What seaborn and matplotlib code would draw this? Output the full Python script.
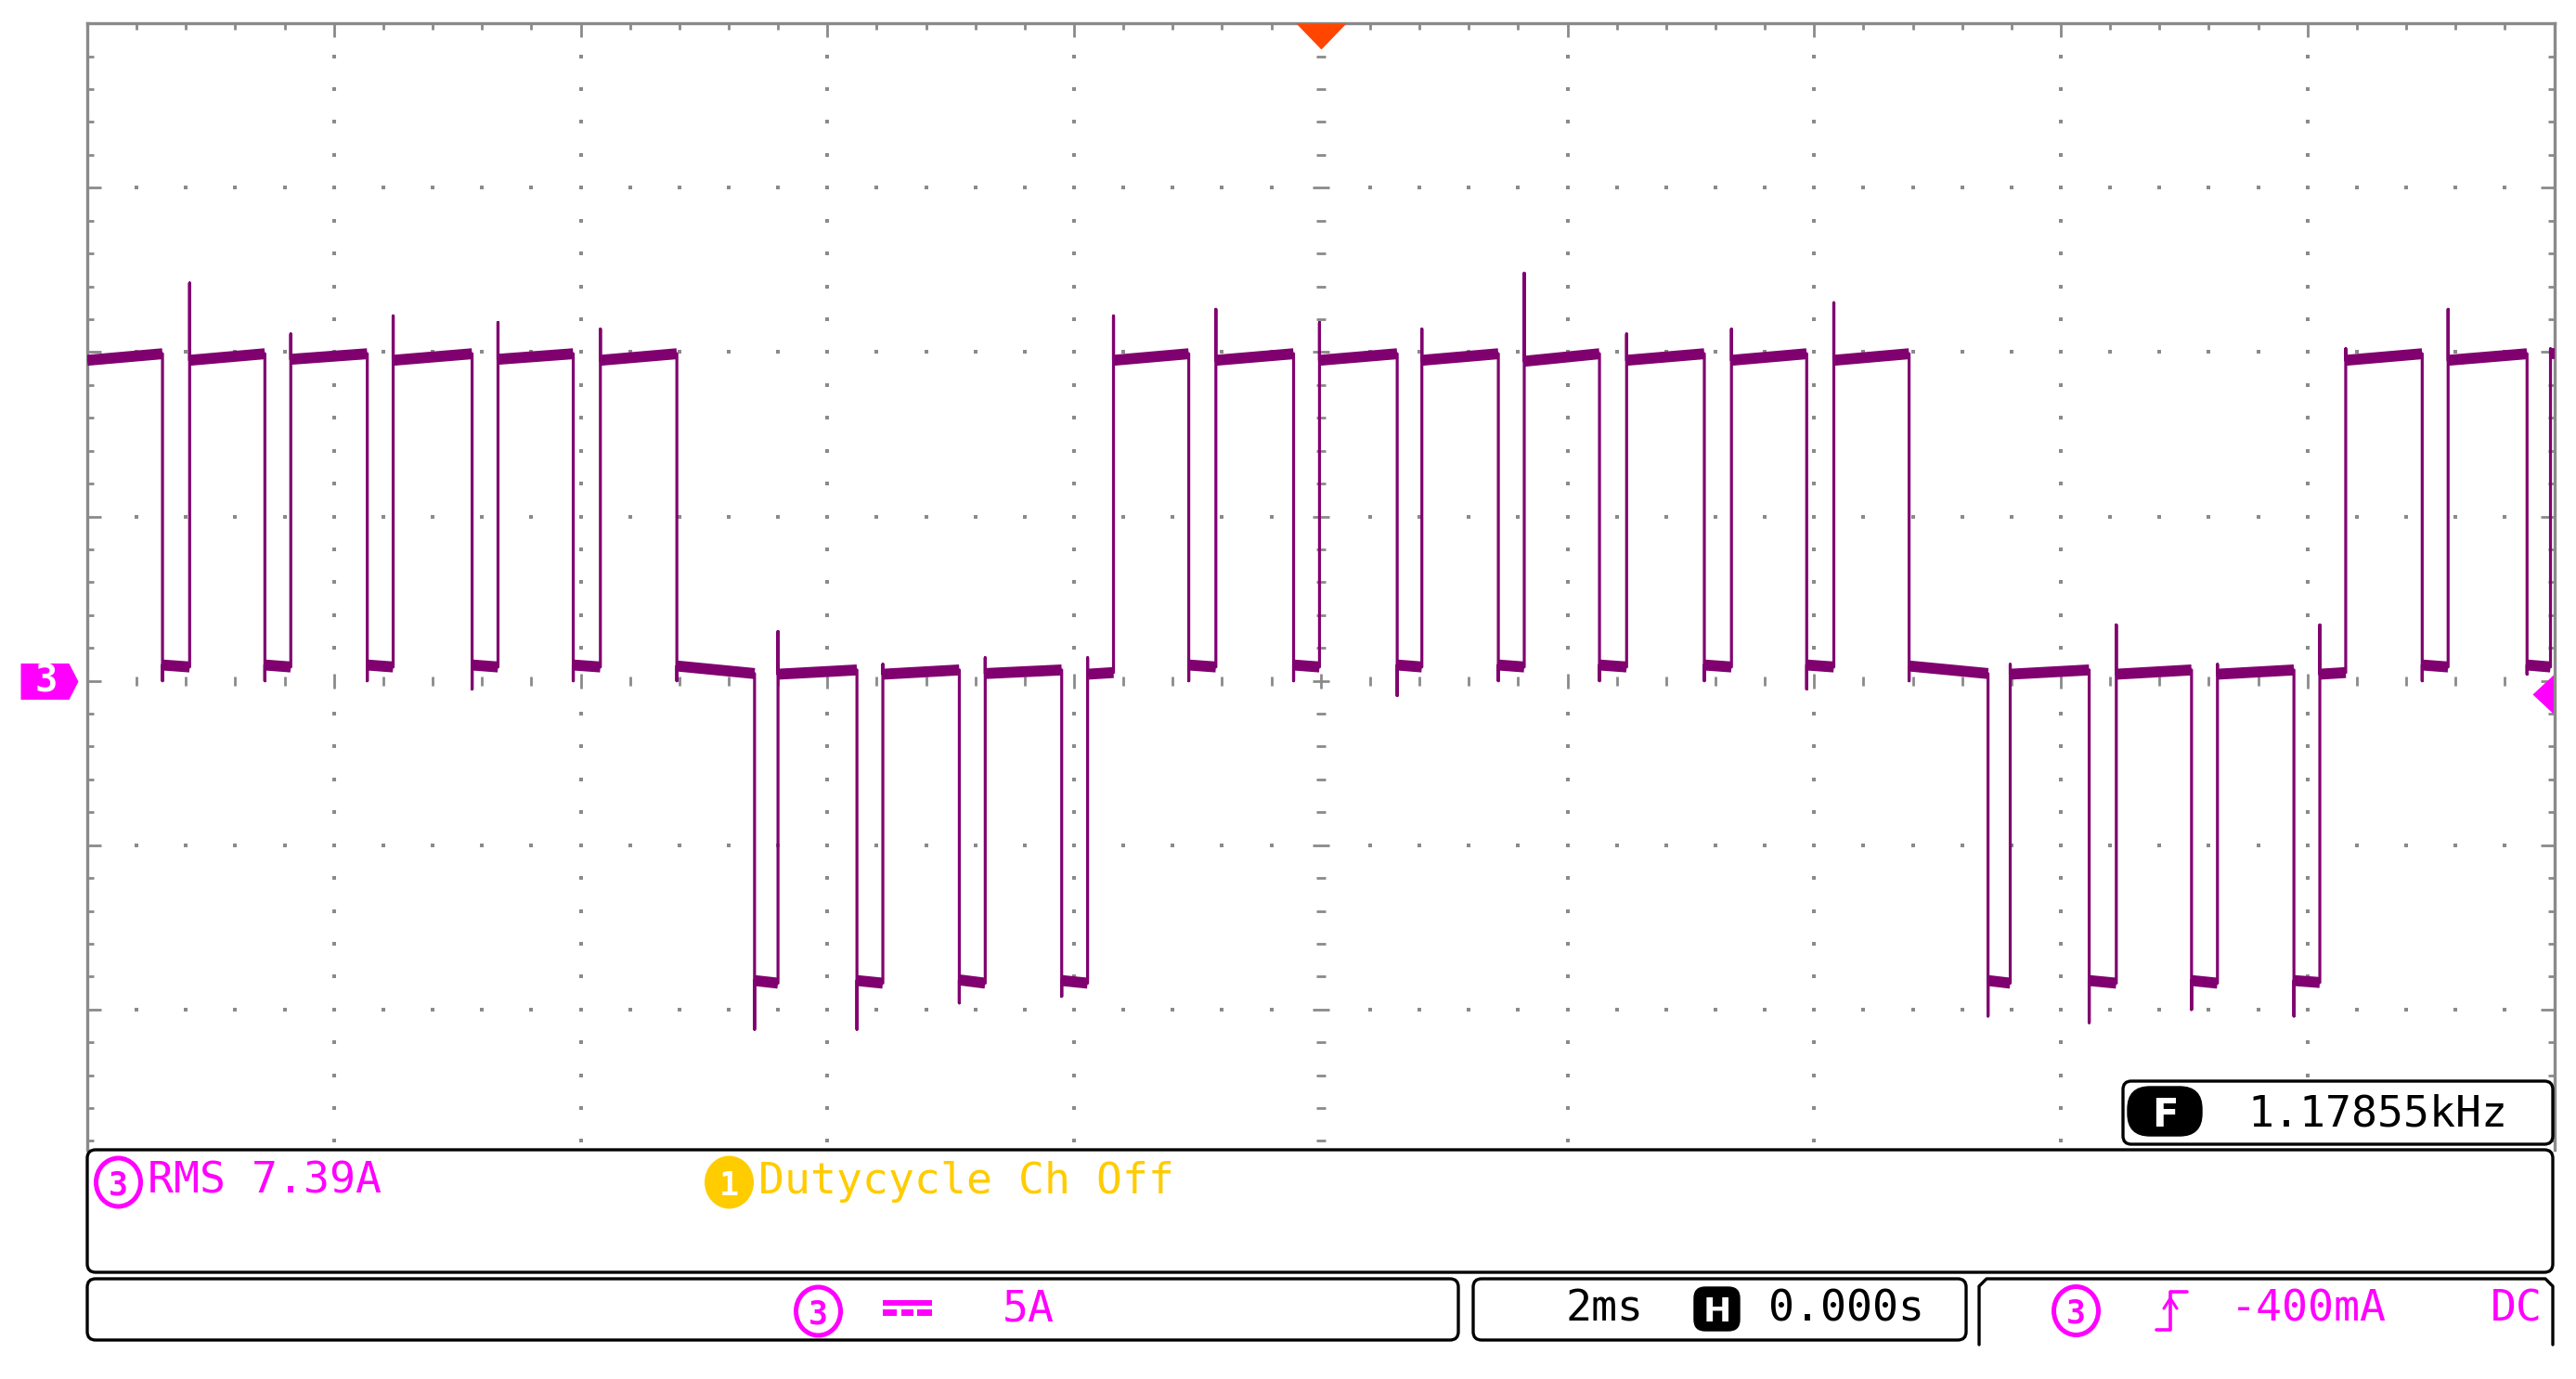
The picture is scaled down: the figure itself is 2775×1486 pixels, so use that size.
import numpy as np
import pandas as pd
import matplotlib

matplotlib.use("Agg")
import matplotlib.pyplot as plt
import seaborn as sns
from matplotlib.lines import Line2D
from matplotlib.patches import Ellipse, FancyBboxPatch, Rectangle
from matplotlib.ticker import MultipleLocator
from matplotlib.transforms import IdentityTransform


# scope settings
TIME_DIV_MS = 2.0
AMP_DIV_A = 5.0
TRIG_MS = 0.0
TRIG_LEVEL_A = -0.4

# channel 3 current: transition times (ms)
EDGE_MS = [
    -9.39, -9.17, -8.56, -8.35, -7.73, -7.52, -6.88, -6.67, -6.06, -5.84,
    -5.22, -4.59, -4.40, -3.76, -3.55, -2.93, -2.72, -2.10, -1.89, -1.68,
    -1.07, -0.85, -0.22, -0.01, 0.62, 0.82, 1.44, 1.65, 2.26, 2.48,
    3.11, 3.33, 3.94, 4.16, 4.77, 5.41, 5.59, 6.23, 6.45, 7.06,
    7.27, 7.89, 8.10, 8.31, 8.93, 9.14, 9.78, 9.97,
]
# value reached by the overshoot at each transition (A)
EDGE_PEAK_A = [
    0.0, 12.1, 0.0, 10.55, 0.0, 11.1, -0.25, 10.9, 0.0, 10.7,
    0.0, -10.6, 1.5, -10.6, 0.5, -9.8, 0.7, -9.6, 0.7, 11.1,
    0.0, 11.3, 0.0, 10.9, -0.45, 10.7, 0.0, 12.4, 0.0, 10.55,
    0.0, 10.7, -0.25, 11.5, 0.0, -10.2, 0.5, -10.4, 1.7, -10.0,
    0.5, -10.2, 1.7, 10.1, 0.0, 11.3, 0.2, 10.1,
]
# plateau level at start and end of each segment between transitions (A)
SEG_START_A = [
    9.75, 0.48, 9.75, 0.48, 9.78, 0.48, 9.75, 0.48, 9.78, 0.48,
    9.75, 0.45, -9.12, 0.20, -9.12, 0.20, -9.10, 0.22, -9.12, 0.20,
    9.75, 0.48, 9.75, 0.48, 9.75, 0.48, 9.75, 0.48, 9.72, 0.48,
    9.75, 0.48, 9.75, 0.48, 9.75, 0.45, -9.12, 0.20, -9.12, 0.20,
    -9.12, 0.20, -9.12, 0.20, 9.75, 0.48, 9.75, 0.48, 9.95,
]
SEG_END_A = [
    9.95, 0.42, 9.95, 0.42, 9.95, 0.42, 9.95, 0.42, 9.95, 0.42,
    9.95, 0.22, -9.20, 0.33, -9.20, 0.33, -9.20, 0.33, -9.20, 0.25,
    9.95, 0.42, 9.95, 0.42, 9.95, 0.42, 9.95, 0.42, 9.95, 0.42,
    9.95, 0.42, 9.95, 0.42, 9.95, 0.22, -9.20, 0.33, -9.20, 0.33,
    -9.20, 0.33, -9.18, 0.25, 9.95, 0.42, 9.95, 0.42, 9.95,
]

RMS_TEXT = "RMS 7.39A"
DUTY_TEXT = "Dutycycle Ch Off"
FREQ_TEXT = "1.17855kHz"
VDIV_TEXT = "5A"
TDIV_TEXT = "2ms"
HPOS_TEXT = "0.000s"
TRIG_TEXT = "-400mA"
COUPLING_TEXT = "DC"

TRACE = "#80006f"
GRID = "#8a8a8a"
MAGENTA = "#ff00ff"
YELLOW = "#ffcc00"
TRIG_ORANGE = "#ff4500"

W, H = 2775, 1486
DPI = 100
FS = 33.5


def build_trace():
    t = [-5 * TIME_DIV_MS]
    v = [SEG_START_A[0]]
    for i, e in enumerate(EDGE_MS):
        t += [e, e, e]
        v += [SEG_END_A[i], EDGE_PEAK_A[i], SEG_START_A[i + 1]]
    t.append(5 * TIME_DIV_MS)
    v.append(SEG_END_A[-1])
    return pd.DataFrame({"t_ms": t, "i_a": v})


def draw_graticule(ax, y_lo, y_hi):
    xs_minor = np.arange(-9.6, 9.7, 0.4)
    ys_minor = np.arange(np.ceil(y_lo), y_hi, 1.0)
    dot = dict(ls="none", marker="s", ms=2.6, color=GRID, mew=0, zorder=1)
    for xm in np.arange(-8, 9, 2):
        if xm == 0:
            continue
        ys = ys_minor[ys_minor != 0]
        ax.plot(np.full(len(ys), xm), ys, **dot)
    for ym in [-10, -5, 5, 10, 15]:
        xs = xs_minor[np.abs(xs_minor) > 1e-6]
        xs = xs[np.abs(np.round(xs / 2) * 2 - xs) > 1e-6]
        ax.plot(xs, np.full(len(xs), ym), **dot)
    # centre cross with ticks
    ys = ys_minor[np.abs(ys_minor) % 5 != 0]
    ax.plot(np.zeros(len(ys)), ys, ls="none", marker="_", ms=7.5, mew=2.0, color=GRID, zorder=1)
    ys = ys_minor[np.abs(ys_minor) % 5 == 0]
    ax.plot(np.zeros(len(ys)), ys, ls="none", marker="_", ms=13, mew=2.0, color=GRID, zorder=1)
    xs = xs_minor[np.abs(np.round(xs_minor / 2) * 2 - xs_minor) > 1e-6]
    ax.plot(xs, np.zeros(len(xs)), ls="none", marker="|", ms=7, mew=2.0, color=GRID, zorder=1)
    xs = np.arange(-8, 9, 2)
    ax.plot(xs, np.zeros(len(xs)), ls="none", marker="|", ms=12, mew=2.0, color=GRID, zorder=1)


def pbox(fig, x0, y0, x1, y1, fc="white", ec="black", lw=2.4, r=9, z=3):
    p = FancyBboxPatch((x0, H - y1), x1 - x0, y1 - y0,
                       boxstyle=f"round,pad=0,rounding_size={r}",
                       transform=IdentityTransform(), fc=fc, ec=ec, lw=lw, zorder=z)
    fig.add_artist(p)


def ptext(fig, x, y, s, color, size=FS, **kw):
    kw.setdefault("ha", "left")
    kw.setdefault("va", "baseline")
    fig.text(x / W, 1 - y / H, s, color=color, fontsize=size, zorder=6, **kw)


def circled(fig, cx, cy, label, color, filled=False):
    e = Ellipse((cx, H - cy), 48, 52, transform=IdentityTransform(),
                fc=color if filled else "white", ec=color, lw=3.6, zorder=5)
    fig.add_artist(e)
    fig.text(cx / W, 1 - cy / H, label, color="white" if filled else color,
             fontsize=25, fontweight="bold", ha="center", va="center_baseline", zorder=6)


def main():
    sns.set_theme(style="white")
    plt.rcParams["font.family"] = ["DejaVu Sans Mono", "DejaVu Sans"]

    fig = plt.figure(figsize=(W / DPI, H / DPI), dpi=DPI)
    fig.patch.set_facecolor("white")

    top_px, bot_px, left_px, right_px = 25.2, 1239.0, 94.0, 2751.5
    ax = fig.add_axes([left_px / W, 1 - bot_px / H, (right_px - left_px) / W, (bot_px - top_px) / H])
    y_hi = 4 * AMP_DIV_A
    y_lo = y_hi - (bot_px - top_px) / 177.1 * AMP_DIV_A
    ax.set_xlim(-5 * TIME_DIV_MS, 5 * TIME_DIV_MS)
    ax.set_ylim(y_lo, y_hi)
    ax.set_facecolor("white")

    for side in ["left", "right", "top"]:
        ax.spines[side].set_color(GRID)
        ax.spines[side].set_linewidth(2.4)
    ax.spines["bottom"].set_visible(False)

    ax.xaxis.set_major_locator(MultipleLocator(TIME_DIV_MS))
    ax.xaxis.set_minor_locator(MultipleLocator(TIME_DIV_MS / 5))
    ax.yaxis.set_major_locator(MultipleLocator(AMP_DIV_A))
    ax.yaxis.set_minor_locator(MultipleLocator(AMP_DIV_A / 5))
    ax.tick_params(axis="x", which="both", direction="in", top=True, bottom=False,
                   labeltop=False, labelbottom=False, color=GRID, width=2.0)
    ax.tick_params(axis="y", which="both", direction="in", left=True, right=True,
                   labelleft=False, labelright=False, color=GRID, width=2.0)
    ax.tick_params(which="major", length=10.5)
    ax.tick_params(which="minor", length=5.2)

    draw_graticule(ax, y_lo, y_hi)

    trace = build_trace()
    sns.lineplot(data=trace, x="t_ms", y="i_a", estimator=None, sort=False,
                 ax=ax, color=TRACE, linewidth=2.3, zorder=3)
    bounds = [-5 * TIME_DIV_MS] + EDGE_MS + [5 * TIME_DIV_MS]
    for i in range(len(SEG_START_A)):
        ax.plot([bounds[i], bounds[i + 1]], [SEG_START_A[i], SEG_END_A[i]],
                color=TRACE, lw=8.5, solid_capstyle="butt", zorder=3)
    ax.set_xlabel("")
    ax.set_ylabel("")

    # trigger position (top) and trigger level (right)
    ax.plot([TRIG_MS], [y_hi], marker=[(-1, 0), (1, 0), (0, -1.04)], ms=40.3,
            color=TRIG_ORANGE, mew=0, clip_on=False, zorder=6)
    ax.plot([5 * TIME_DIV_MS], [TRIG_LEVEL_A], marker=[(0, -1), (0, 1), (-1.07, 0)], ms=34.6,
            color=MAGENTA, mew=0, clip_on=False, zorder=2)
    # channel 3 ground flag
    flag = [(-72, -19.5), (-20, -19.5), (-10, 0), (-20, 19.5), (-72, 19.5)]
    ax.plot([-5 * TIME_DIV_MS], [0], marker=flag, ms=103.7, color=MAGENTA, mew=0,
            clip_on=False, zorder=6)
    ax.annotate("3", xy=(-5 * TIME_DIV_MS, 0), xytext=(-32, 0), textcoords="offset points",
                ha="center", va="center", color="white", fontsize=29, fontweight="bold",
                annotation_clip=False, zorder=7)

    # frequency readout box
    pbox(fig, 2287, 1165, 2750, 1233, z=4)
    pbox(fig, 2292, 1171, 2372, 1224, fc="black", ec="black", lw=1, r=24, z=5)
    fig.text(2332 / W, 1 - 1197.5 / H, "F", color="white", fontsize=30, fontweight="bold",
             ha="center", va="center_baseline", zorder=6, family="DejaVu Sans")
    ptext(fig, 2421, 1213, FREQ_TEXT, "black")

    # measurement panel
    pbox(fig, 94, 1239, 2750, 1371)
    circled(fig, 127.5, 1274, "3", MAGENTA)
    ptext(fig, 159, 1286, RMS_TEXT, MAGENTA)
    circled(fig, 785.5, 1274, "1", YELLOW, filled=True)
    ptext(fig, 817, 1286, DUTY_TEXT, YELLOW)

    # status bar
    pbox(fig, 94, 1378, 1571, 1444)
    pbox(fig, 1587, 1378, 2118, 1444)
    fig.add_artist(Line2D([2132, 2132, 2140, 2742, 2750, 2750],
                          [H - 1449, H - 1386, H - 1378, H - 1378, H - 1386, H - 1449],
                          transform=IdentityTransform(), color="black", lw=2.4, zorder=3))

    circled(fig, 881.5, 1413, "3", MAGENTA)
    fig.add_artist(Rectangle((951, H - 1407), 53, 6, transform=IdentityTransform(),
                             fc=MAGENTA, ec="none", zorder=5))
    for x0, x1 in [(951, 966), (971, 984), (988, 1004)]:
        fig.add_artist(Rectangle((x0, H - 1418), x1 - x0, 7, transform=IdentityTransform(),
                                 fc=MAGENTA, ec="none", zorder=5))
    ptext(fig, 1080, 1424, VDIV_TEXT, MAGENTA)

    ptext(fig, 1687, 1424, TDIV_TEXT, "black")
    pbox(fig, 1825, 1387, 1874, 1434, fc="black", ec="black", lw=1, r=12, z=5)
    fig.text(1849.5 / W, 1 - 1411 / H, "H", color="white", fontsize=26, fontweight="bold",
             ha="center", va="center_baseline", zorder=6, family="DejaVu Sans")
    ptext(fig, 1905, 1424, HPOS_TEXT, "black")

    circled(fig, 2236.5, 1412.5, "3", MAGENTA)
    fig.add_artist(Line2D([2323, 2338, 2338, 2356], [H - 1433, H - 1433, H - 1392, H - 1392],
                          transform=IdentityTransform(), color=MAGENTA, lw=2.6, zorder=5))
    fig.add_artist(Line2D([2331, 2338, 2345], [H - 1410, H - 1399, H - 1410],
                          transform=IdentityTransform(), color=MAGENTA, lw=2.2, zorder=5))
    ptext(fig, 2403, 1424, TRIG_TEXT, MAGENTA)
    ptext(fig, 2683, 1424, COUPLING_TEXT, MAGENTA)

    fig.savefig("out.png", dpi=DPI, facecolor="white")
    plt.close(fig)


if __name__ == "__main__":
    main()
